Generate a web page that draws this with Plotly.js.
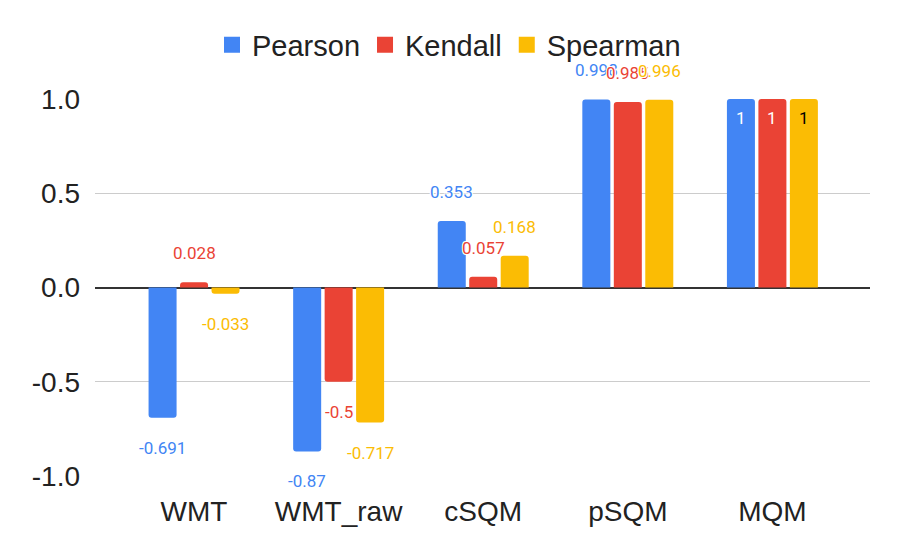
<!DOCTYPE html>
<html>
<head>
<meta charset="utf-8">
<script src="https://cdn.plot.ly/plotly-3.0.1.min.js"></script>
<style>
  html, body { margin: 0; padding: 0; background: #fff; }
  #plot { width: 898px; height: 555px; }
</style>
</head>
<body>
<div id="plot"></div>
<script>
// values
const categories = ['WMT', 'WMT_raw', 'cSQM', 'pSQM', 'MQM']
const pearson = [-0.691, -0.87, 0.353, 0.998, 1]
const kendall = [0.028, -0.5, 0.057, 0.985, 1]
const spearman = [-0.033, -0.717, 0.168, 0.996, 1]
const yTickVals = [-1, -0.5, 0, 0.5, 1]
const yTickText = ['-1.0', '-0.5', '0.0', '0.5', '1.0']

const series = [
  { name: 'Pearson', values: pearson, color: '#4285F4', inside: '#ffffff' },
  { name: 'Kendall', values: kendall, color: '#EA4335', inside: '#ffffff' },
  { name: 'Spearman', values: spearman, color: '#FBBC04', inside: '#000000' }
]

const margin = { l: 95, r: 28, t: 99, b: 79 }
const xRange = [-0.685, 4.675]
const bargap = 0.347
const plotW = 898 - margin.l - margin.r
const slotPx = plotW / (xRange[1] - xRange[0]) * (1 - bargap) / series.length

const halo = '-1px -1px 0 #fff, 1px -1px 0 #fff, -1px 1px 0 #fff, 1px 1px 0 #fff'

const traces = series.map(s => ({
  type: 'bar',
  name: s.name,
  x: categories,
  y: s.values,
  marker: { color: s.color, cornerradius: 3 },
  showlegend: false,
  hoverinfo: 'skip'
}))

// legend-only entries so the legend squares come out the size of the original
series.forEach(s => {
  traces.push({
    type: 'scatter',
    mode: 'markers',
    name: s.name,
    x: [null],
    y: [null],
    marker: { symbol: 'square', size: 18, color: s.color },
    hoverinfo: 'skip'
  })
})

// value labels, Google-charts style: off the bar end, or inside when the bar is full
const annotations = []
series.forEach((s, i) => {
  s.values.forEach((v, j) => {
    const inside = v >= 1
    annotations.push({
      x: categories[j],
      y: v,
      xref: 'x',
      yref: 'y',
      text: String(v),
      showarrow: false,
      xshift: (i - (series.length - 1) / 2) * slotPx,
      yshift: inside ? -19 : (v >= 0 ? 29 : -30),
      font: {
        family: 'Roboto, Arial, sans-serif',
        size: 17,
        color: inside ? s.inside : s.color,
        shadow: inside ? 'none' : halo
      }
    })
  })
})

Plotly.newPlot('plot', traces, {
  width: 898,
  height: 555,
  margin: margin,
  paper_bgcolor: '#fff',
  plot_bgcolor: '#fff',
  barmode: 'group',
  bargap: bargap,
  bargroupgap: 0.11,
  font: { family: 'Liberation Sans, Arial, sans-serif', color: '#222' },
  showlegend: true,
  legend: {
    orientation: 'h',
    xref: 'container',
    yref: 'container',
    x: 0.5,
    xanchor: 'center',
    y: 1 - 45 / 555,
    yanchor: 'middle',
    font: { size: 29, color: '#222' },
    itemclick: false,
    itemdoubleclick: false
  },
  xaxis: {
    type: 'category',
    range: xRange,
    showgrid: false,
    showline: false,
    ticks: '',
    ticklabelstandoff: 16,
    tickfont: { size: 28, color: '#222' },
    fixedrange: true
  },
  yaxis: {
    range: [-1.0005, 1.0005],
    tickvals: yTickVals,
    ticktext: yTickText,
    showgrid: true,
    gridcolor: '#cccccc',
    gridwidth: 1.5,
    zeroline: true,
    zerolinecolor: '#333333',
    zerolinewidth: 2,
    showline: false,
    ticks: '',
    ticklabelstandoff: 14,
    tickfont: { size: 28, color: '#222' },
    fixedrange: true
  },
  annotations: annotations
}, { displayModeBar: false, staticPlot: true })
</script>
</body>
</html>
